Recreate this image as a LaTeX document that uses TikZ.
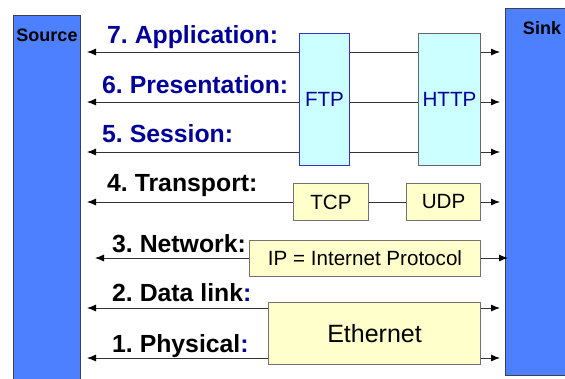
\documentclass[tikz,border=0pt]{standalone}
\usepackage{fontspec}
\setmainfont{Liberation Sans}
\usetikzlibrary{arrows.meta}

\definecolor{hostblue}{RGB}{77,128,255}
\definecolor{layerblue}{RGB}{0,0,153}
\definecolor{appfill}{RGB}{204,255,255}
\definecolor{protofill}{RGB}{255,255,204}
\definecolor{ftpedge}{RGB}{51,51,204}

\begin{document}
\frenchspacing
\begin{tikzpicture}[x=1pt,y=-1pt,
  host/.style={draw=black!75,fill=hostblue,line width=1pt,anchor=north west,inner sep=0pt},
  hostname/.style={inner sep=0pt,font=\fontsize{18}{20}\selectfont\bfseries},
  layer/.style={anchor=base west,inner sep=0pt,font=\fontsize{24.8}{28}\selectfont\bfseries},
  appbox/.style={fill=appfill,line width=1pt,anchor=north west,inner sep=0pt,
    text=layerblue,font=\fontsize{20.6}{22}\selectfont},
  protobox/.style={draw=black!55,fill=protofill,line width=1pt,anchor=north west,inner sep=0pt,
    font=\fontsize{20.6}{22}\selectfont},
  flow/.style={{Latex[length=9pt,width=7pt,color=black]}-{Latex[length=9pt,width=7pt,color=black]},
    draw=black!80,line width=0.9pt}]
  \clip (0,0) rectangle (565,378);
  % end systems
  \node[host,minimum width=67,minimum height=375] (source) at (13,15) {};
  \node[hostname] (sourcename) at (47,35) {Source};
  \node[host,minimum width=70,minimum height=367] (sink) at (505,8) {};
  \node[hostname] (sinkname) at (542,28) {Sink};
  % line ends
  \coordinate (l7) at (87,52);   \coordinate (r7) at (500,52);
  \coordinate (l6) at (87,102);  \coordinate (r6) at (500,102);
  \coordinate (l5) at (87,152);  \coordinate (r5) at (500,152);
  \coordinate (l4) at (87,202);  \coordinate (r4) at (500,202);
  \coordinate (l3) at (95,258);  \coordinate (r3) at (508,258);
  \coordinate (l2) at (87,308);  \coordinate (r2) at (500,308);
  \coordinate (l1) at (87,358);  \coordinate (r1) at (500,358);
  \draw[flow] (l7) -- (r7);
  \draw[flow] (l6) -- (r6);
  \draw[flow] (l5) -- (r5);
  \draw[flow] (l4) -- (r4);
  \draw[flow] (l3) -- (r3);
  \draw[flow] (l2) -- (r2);
  \draw[flow] (l1) -- (r1);
  % layer names
  \node[layer,text=layerblue] (app) at (107,43) {7. Application:};
  \node[layer,text=layerblue] (pres) at (102,93) {6. Presentation:};
  \node[layer,text=layerblue] (sess) at (102,142) {5. Session:};
  \node[layer] (trans) at (107,191) {4. Transport:};
  \node[layer] (net) at (112,252) {3. Network:};
  \node[layer] (link) at (112,301) {2. Data link{\color{layerblue}:}};
  \node[layer] (phys) at (112,352) {1. Physical{\color{layerblue}:}};
  % protocols
  \node[appbox,draw=ftpedge,minimum width=50,minimum height=132] (ftp) at (299,33) {FTP};
  \node[appbox,draw=black!60,minimum width=62,minimum height=132] (http) at (418,33) {HTTP};
  \node[protobox,minimum width=75,minimum height=37] (tcp) at (293,183) {TCP};
  \node[protobox,minimum width=74,minimum height=37] (udp) at (406,183) {UDP};
  \node[protobox,minimum width=231,minimum height=36] (ip) at (249,240) {IP = Internet Protocol};
  \node[protobox,minimum width=212,minimum height=62,font=\fontsize{25}{28}\selectfont] (eth) at (268,302) {Ethernet};
\end{tikzpicture}
\end{document}
